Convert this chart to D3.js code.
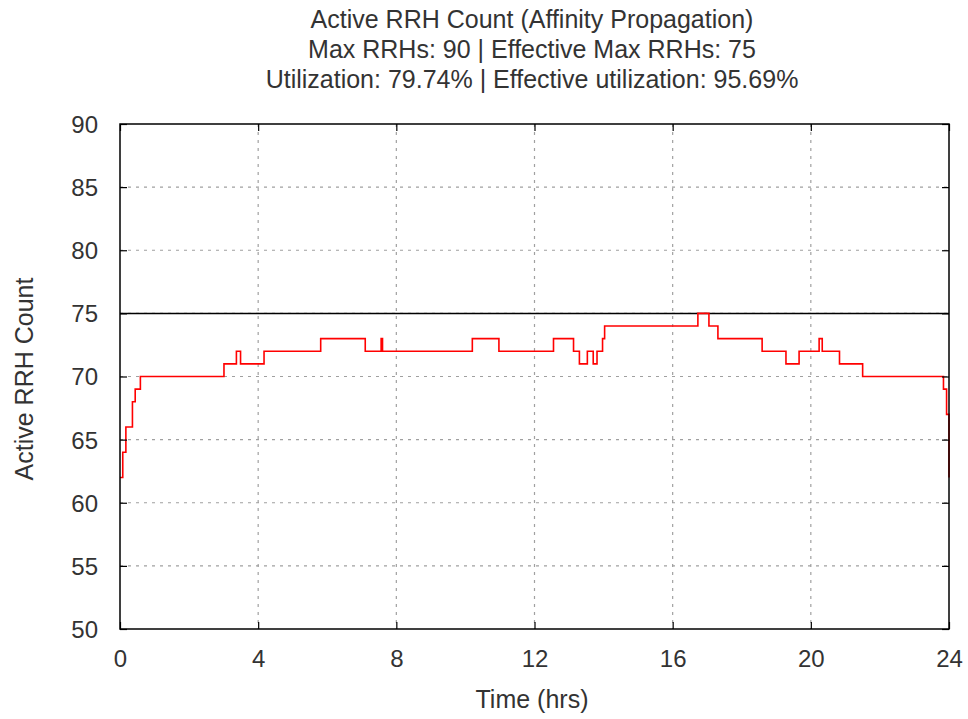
<!DOCTYPE html>
<html>
<head>
<meta charset="utf-8">
<script src="https://cdn.jsdelivr.net/npm/d3@7"></script>
<style>
  body { margin: 0; background: #fff; }
  text { font-family: "Liberation Sans", Arial, sans-serif; fill: #333; }
</style>
</head>
<body>
<div id="vis"></div>
<script>
// step data (hours, active RRH count)
var times = [0, 0.08, 0.17, 0.36, 0.44, 0.59, 3.01, 3.37, 3.49, 4.17,
             5.81, 7.10, 7.56, 7.60, 10.20, 10.97, 12.55, 13.13, 13.30, 13.53,
             13.70, 13.81, 13.97, 14.03, 16.73, 17.05, 17.31, 18.59, 19.28, 19.66,
             20.24, 20.33, 20.83, 21.50, 23.84, 23.93, 24];
var counts = [62, 64, 66, 68, 69, 70, 71, 72, 71, 72,
              73, 72, 73, 72, 73, 72, 73, 72, 71, 72,
              71, 72, 73, 74, 75, 74, 73, 72, 71, 72,
              73, 72, 71, 70, 69, 67, 62];
var xTicks = [0, 4, 8, 12, 16, 20, 24];
var yTicks = [50, 55, 60, 65, 70, 75, 80, 85, 90];
var effectiveMax = 75;
var titleLines = [
  "Active RRH Count (Affinity Propagation)",
  "Max RRHs: 90 | Effective Max RRHs: 75",
  "Utilization: 79.74% | Effective utilization: 95.69%"
];

var data = times.map(function(t, i) { return {t: t, v: counts[i]}; });

var W = 968, H = 719;
var margin = {top: 124, right: 19, bottom: 90, left: 120},
    width = W - margin.left - margin.right,
    height = H - margin.top - margin.bottom;

var svg = d3.select("#vis").append("svg")
    .attr("width", W)
    .attr("height", H);

var x = d3.scaleLinear().domain([0, 24]).range([0, width]);
var y = d3.scaleLinear().domain([50, 90]).range([height, 0]);

var g = svg.append("g")
    .attr("transform", "translate(" + margin.left + "," + margin.top + ")");

// grid
g.selectAll("line.vgrid")
    .data(xTicks.slice(1, -1))
  .enter().append("line")
    .attr("class", "vgrid")
    .attr("x1", function(d) { return x(d); })
    .attr("x2", function(d) { return x(d); })
    .attr("y1", 0).attr("y2", height)
    .attr("stroke", "#a0a0a0").attr("stroke-width", 1.2)
    .attr("stroke-dasharray", "3,5");

g.selectAll("line.hgrid")
    .data(yTicks.slice(1, -1))
  .enter().append("line")
    .attr("class", "hgrid")
    .attr("x1", 0).attr("x2", width)
    .attr("y1", function(d) { return y(d); })
    .attr("y2", function(d) { return y(d); })
    .attr("stroke", "#a0a0a0").attr("stroke-width", 1.2)
    .attr("stroke-dasharray", "3,5");

// effective max line
g.append("line")
    .attr("x1", 0).attr("x2", width)
    .attr("y1", y(effectiveMax)).attr("y2", y(effectiveMax))
    .attr("stroke", "#000").attr("stroke-width", 1.5);

// the step line
var line = d3.line()
    .x(function(d) { return x(d.t); })
    .y(function(d) { return y(d.v); })
    .curve(d3.curveStepAfter);

g.append("path")
    .datum(data)
    .attr("d", line)
    .attr("fill", "none")
    .attr("stroke", "#ff0000")
    .attr("stroke-width", 1.6);

// axes (inner ticks, mirrored)
var tickLen = 7;
var xAxis = d3.axisBottom(x).tickValues(xTicks).tickSize(-tickLen).tickPadding(21);
var yAxis = d3.axisLeft(y).tickValues(yTicks).tickSize(-tickLen).tickPadding(22);

var xg = g.append("g").attr("transform", "translate(0," + height + ")").call(xAxis);
var yg = g.append("g").call(yAxis);
g.append("g").call(d3.axisTop(x).tickValues(xTicks).tickSize(-tickLen).tickFormat(""));
g.append("g").attr("transform", "translate(" + width + ",0)")
    .call(d3.axisRight(y).tickValues(yTicks).tickSize(-tickLen).tickFormat(""));

g.selectAll(".domain").remove();
g.selectAll(".tick line").attr("stroke", "#000").attr("stroke-width", 1.2);
xg.selectAll("text").style("font-size", "24px").style("font-family", "Liberation Sans, Arial, sans-serif").attr("fill", "#333");
yg.selectAll("text").style("font-size", "24px").style("font-family", "Liberation Sans, Arial, sans-serif").attr("fill", "#333").attr("dy", "0.35em");

// frame
g.append("rect")
    .attr("width", width).attr("height", height)
    .attr("fill", "none").attr("stroke", "#000").attr("stroke-width", 1.5);

// titles
svg.selectAll("text.title")
    .data(titleLines)
  .enter().append("text")
    .attr("class", "title")
    .attr("x", 532)
    .attr("y", function(d, i) { return 28 + i * 30; })
    .attr("text-anchor", "middle")
    .style("font-size", "25px")
    .text(function(d) { return d; });

svg.append("text")
    .attr("x", 532).attr("y", 708)
    .attr("text-anchor", "middle")
    .style("font-size", "25px")
    .text("Time (hrs)");

svg.append("text")
    .attr("transform", "translate(33,379) rotate(-90)")
    .attr("text-anchor", "middle")
    .style("font-size", "25px")
    .text("Active RRH Count");
</script>
</body>
</html>
